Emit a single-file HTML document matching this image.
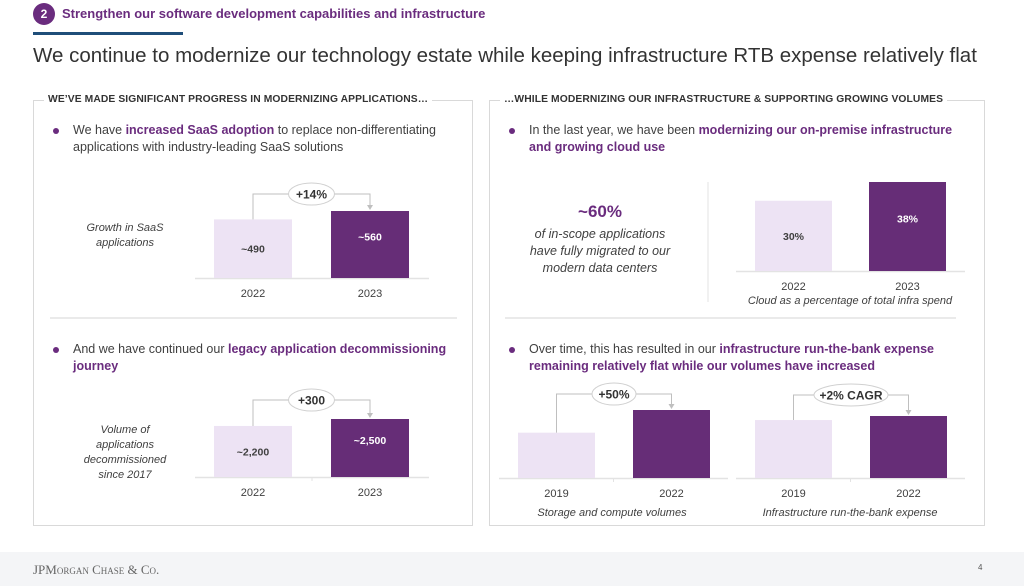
<!DOCTYPE html>
<html><head><meta charset="utf-8"><style>
*{margin:0;padding:0;box-sizing:border-box}
body{width:1024px;height:586px;background:#fff;font-family:"Liberation Sans",sans-serif;color:#333;position:relative;overflow:hidden}
.a{position:absolute}
.p{color:#6a2c7e;font-weight:bold}
.bul{font-size:12.5px;line-height:17px;color:#404040}
.bul::before{content:"";position:absolute;left:-20px;top:6px;width:6px;height:6px;border-radius:50%;background:#6a2c7e}
.panel{border:1px solid #d9d9d9;border-top:none}
.ph{font-size:10.3px;font-weight:bold;color:#333;background:#fff;padding:0 4px;letter-spacing:0.1px}
.it{font-style:italic;font-size:11px;color:#404040;text-align:center;line-height:15px}
</style></head><body>
<div class="a" style="left:33px;top:3px;width:22px;height:22px;border-radius:50%;background:#6a2c7e;color:#fff;font-weight:bold;font-size:12px;text-align:center;line-height:22px">2</div>
<div class="a" style="left:62px;top:6px;font-size:13px;font-weight:bold;color:#6a2c7e">Strengthen our software development capabilities and infrastructure</div>
<div class="a" style="left:33px;top:32px;width:150px;height:3px;background:#1f4e79"></div>
<div class="a" style="left:33px;top:44px;font-size:20.5px;color:#333">We continue to modernize our technology estate while keeping infrastructure RTB expense relatively flat</div>

<div class="a panel" style="left:33px;top:100px;width:440px;height:426px;border-top:1px solid #d9d9d9"></div>
<div class="a ph" style="left:44px;top:94px">WE’VE MADE SIGNIFICANT PROGRESS IN MODERNIZING APPLICATIONS…</div>
<div class="a panel" style="left:489px;top:100px;width:496px;height:426px;border-top:1px solid #d9d9d9"></div>
<div class="a ph" style="left:500px;top:94px">…WHILE MODERNIZING OUR INFRASTRUCTURE &amp; SUPPORTING GROWING VOLUMES</div>

<div class="a bul" style="left:73px;top:122px;width:390px">We have <span class="p">increased SaaS adoption</span> to replace non-differentiating applications with industry-leading SaaS solutions</div>
<div class="a it" style="left:75px;top:221px;width:100px">Growth in SaaS applications</div>
<div class="a bul" style="left:73px;top:341px;width:395px">And we have continued our <span class="p">legacy application decommissioning journey</span></div>
<div class="a it" style="left:75px;top:423px;width:100px">Volume of applications decommissioned since 2017</div>

<div class="a bul" style="left:529px;top:122px;width:440px">In the last year, we have been <span class="p">modernizing our on-premise infrastructure and growing cloud use</span></div>
<div class="a" style="left:540px;top:202px;width:120px;text-align:center;font-size:17px;font-weight:bold;color:#6a2c7e">~60%</div>
<div class="a it" style="left:522px;top:226px;width:156px;font-size:12.5px;line-height:17px">of in-scope applications have fully migrated to our modern data centers</div>
<div class="a bul" style="left:529px;top:341px;width:440px">Over time, this has resulted in our <span class="p">infrastructure run-the-bank expense remaining relatively flat while our volumes have increased</span></div>

<svg class="a" style="left:0;top:0" width="1024" height="586" id="svg"></svg>

<div class="a" style="left:0;top:552px;width:1024px;height:34px;background:#f4f5f7"></div>
<div class="a" style="left:33px;top:562px;font-family:'Liberation Serif',serif;font-size:13px;color:#666;font-variant:small-caps">JPMorgan Chase &amp; Co.</div>
<div class="a" style="left:978px;top:563px;font-size:8px;color:#555">4</div>

<script>
const saasYears=["2022","2023"];
const saasValues=[490,560];
const saasLabels=["~490","~560"];
const decomYears=["2022","2023"];
const decomValues=[2200,2500];
const decomLabels=["~2,200","~2,500"];
const cloudYears=["2022","2023"];
const cloudValues=[30,38];
const cloudLabels=["30%","38%"];
const volYears=["2019","2022"];
const volValues=[100,150];
const rtbYears=["2019","2022"];
const rtbValues=[100,107];

const svg=document.getElementById('svg');
const NS="http://www.w3.org/2000/svg";
function mk(tag,attrs,name){const e=document.createElementNS(NS,tag);for(const k in attrs)e.setAttribute(k,attrs[k]);


svg.appendChild(e);return e;}
function txt(x,y,s,attrs,name){const t=mk('text',Object.assign({x:x,y:y,'text-anchor':'middle','font-family':'Liberation Sans, sans-serif'},attrs),name);t.textContent=s;return t;}

function chart(o){
  const {id,years,values,labels,x0,bw,gap,base,maxH,maxV,bl0,bl1,pill,pillW,pillY,caption,capX,capY,sep}=o;
  const y=v=>base-v/maxV*maxH;
  mk('line',{x1:bl0,x2:bl1,y1:base+0.5,y2:base+0.5,stroke:'#e3e3e3','stroke-width':1.5},id+'-baseline');
  const cx=[];
  values.forEach((v,i)=>{
    const x=x0+i*(bw+gap);cx.push(x+bw/2);
    mk('rect',{x:x,y:y(v),width:bw,height:base-y(v),fill:i==0?'#ede3f4':'#662d77'},id+'-bar-'+years[i]);
    txt(x+bw/2,base+19,years[i],{'font-size':11,fill:'#404040'},id+'-x-label-'+years[i]);
    if(labels) txt(x+bw/2,y(v)+(base-y(v))/2+(i==0?4:-4),labels[i],{'font-size':10.5,'font-weight':'bold',fill:i==0?'#404040':'#fff'},id+'-value-'+years[i]);
  });
  if(sep) mk('line',{x1:(bl0+bl1)/2,x2:(bl0+bl1)/2,y1:base,y2:base+4,stroke:'#e3e3e3'},id+'-tick');
  if(pill){
    const t0=y(values[0]),t1=y(values[1]);
    mk('polyline',{points:`${cx[0]},${t0} ${cx[0]},${pillY} ${cx[1]},${pillY} ${cx[1]},${t1-6}`,fill:'none',stroke:'#bfbfbf','stroke-width':1},id+'-bracket');
    mk('polygon',{points:`${cx[1]-3},${t1-6} ${cx[1]+3},${t1-6} ${cx[1]},${t1-1}`,fill:'#bfbfbf'},id+'-arrow');
    const pc=(cx[0]+cx[1])/2;
    mk('ellipse',{cx:pc,cy:pillY,rx:pillW/2,ry:11,fill:'#fff',stroke:'#d0d0d0'},id+'-change-pill');
    txt(pc,pillY+4.5,pill,{'font-size':12,'font-weight':'bold',fill:'#333'},id+'-change-label');
  }
  if(caption) txt(capX,capY,caption,{'font-size':11,'font-style':'italic',fill:'#404040'},id+'-caption');
}
chart({id:'saas',years:saasYears,values:saasValues,labels:saasLabels,x0:214,bw:78,gap:39,base:278,maxH:67,maxV:560,bl0:195,bl1:429,pill:'+14%',pillW:46,pillY:194});
chart({id:'decom',years:decomYears,values:decomValues,labels:decomLabels,x0:214,bw:78,gap:39,base:477,maxH:58,maxV:2500,bl0:195,bl1:429,pill:'+300',pillW:46,pillY:400,sep:1});
chart({id:'cloud',years:cloudYears,values:cloudValues,labels:cloudLabels,x0:755,bw:77,gap:37,base:271,maxH:89,maxV:38,bl0:736,bl1:965,caption:'Cloud as a percentage of total infra spend',capX:850,capY:304});
chart({id:'volumes',years:volYears,values:volValues,x0:518,bw:77,gap:38,base:478,maxH:68,maxV:150,bl0:499,bl1:728,pill:'+50%',pillW:44,pillY:394,caption:'Storage and compute volumes',capX:612,capY:516,sep:1});
chart({id:'rtb',years:rtbYears,values:rtbValues,x0:755,bw:77,gap:38,base:478,maxH:62,maxV:107,bl0:736,bl1:965,pill:'+2% CAGR',pillW:74,pillY:395,caption:'Infrastructure run-the-bank expense',capX:850,capY:516,sep:1});
mk('line',{x1:708,x2:708,y1:182,y2:302,stroke:'#e3e3e3'},'cloud-separator');
mk('line',{x1:50,x2:457,y1:318,y2:318,stroke:'#e3e3e3','stroke-width':1.5},'left-divider');
mk('line',{x1:505,x2:956,y1:318,y2:318,stroke:'#e3e3e3','stroke-width':1.5},'right-divider');
</script>
</body></html>
